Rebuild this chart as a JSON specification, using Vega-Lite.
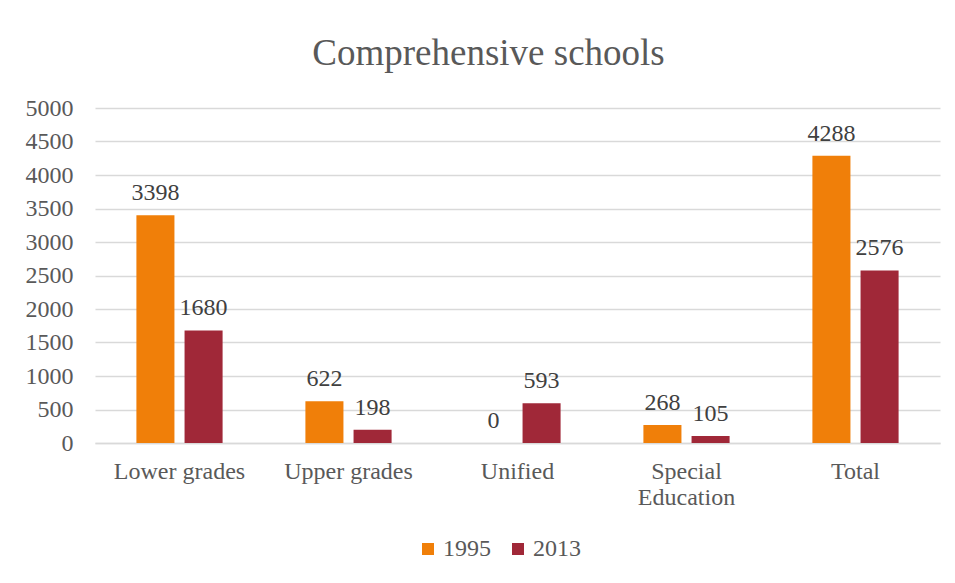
{
  "$schema": "https://vega.github.io/schema/vega-lite/v6.json",
  "autosize": "none",
  "width": 845,
  "height": 335,
  "padding": {"left": 95, "top": 108, "right": 15, "bottom": 140},
  "background": "white",
  "title": {
    "text": "Comprehensive schools",
    "font": "Liberation Serif",
    "fontSize": 37,
    "fontWeight": "normal",
    "color": "#595959",
    "anchor": "middle",
    "frame": "group",
    "offset": 23,
    "dx": -29
  },
  "data": {
    "values": [
      {"category": "Lower grades", "year": "1995", "value": 3398},
      {"category": "Lower grades", "year": "2013", "value": 1680},
      {"category": "Upper grades", "year": "1995", "value": 622},
      {"category": "Upper grades", "year": "2013", "value": 198},
      {"category": "Unified", "year": "1995", "value": 0},
      {"category": "Unified", "year": "2013", "value": 593},
      {"category": "Special Education", "year": "1995", "value": 268},
      {"category": "Special Education", "year": "2013", "value": 105},
      {"category": "Total", "year": "1995", "value": 4288},
      {"category": "Total", "year": "2013", "value": 2576}
    ]
  },
  "encoding": {
    "x": {
      "field": "category",
      "type": "nominal",
      "sort": ["Lower grades", "Upper grades", "Unified", "Special Education", "Total"],
      "scale": {"paddingInner": 0.49, "paddingOuter": 0.245},
      "axis": {
        "title": null,
        "labelAngle": 0,
        "ticks": false,
        "domain": true,
        "domainColor": "#d9d9d9",
        "domainWidth": 1.5,
        "labelFont": "Liberation Serif",
        "labelFontSize": 24,
        "labelColor": "#595959",
        "labelPadding": 16,
        "labelLineHeight": 26,
        "labelExpr": "datum.label == 'Special Education' ? ['Special', 'Education'] : datum.label"
      }
    },
    "xOffset": {
      "field": "year",
      "type": "nominal",
      "scale": {"paddingInner": 0.21, "paddingOuter": 0}
    },
    "y": {
      "field": "value",
      "type": "quantitative",
      "scale": {"domain": [0, 5000]},
      "axis": {
        "title": null,
        "values": [0, 500, 1000, 1500, 2000, 2500, 3000, 3500, 4000, 4500, 5000],
        "format": "d",
        "domain": false,
        "ticks": false,
        "grid": true,
        "gridColor": "#d9d9d9",
        "gridWidth": 1.5,
        "labelFont": "Liberation Serif",
        "labelFontSize": 24,
        "labelColor": "#595959",
        "labelPadding": 22
      }
    }
  },
  "layer": [
    {
      "mark": {"type": "bar"},
      "encoding": {
        "color": {
          "field": "year",
          "type": "nominal",
          "scale": {"domain": ["1995", "2013"], "range": ["#F07F09", "#A02838"]},
          "legend": {
            "title": null,
            "orient": "none",
            "direction": "horizontal",
            "legendX": 321,
            "legendY": 429,
            "symbolType": "square",
            "symbolSize": 144,
            "symbolStrokeWidth": 0,
            "labelFont": "Liberation Serif",
            "labelFontSize": 24,
            "labelColor": "#595959",
            "labelOffset": 3,
            "columnPadding": 15
          }
        }
      }
    },
    {
      "mark": {
        "type": "text",
        "baseline": "alphabetic",
        "dy": -15,
        "font": "Liberation Serif",
        "fontSize": 24,
        "color": "#404040"
      },
      "encoding": {
        "text": {"field": "value", "type": "quantitative", "format": "d"}
      }
    }
  ],
  "config": {
    "view": {"stroke": null}
  }
}
